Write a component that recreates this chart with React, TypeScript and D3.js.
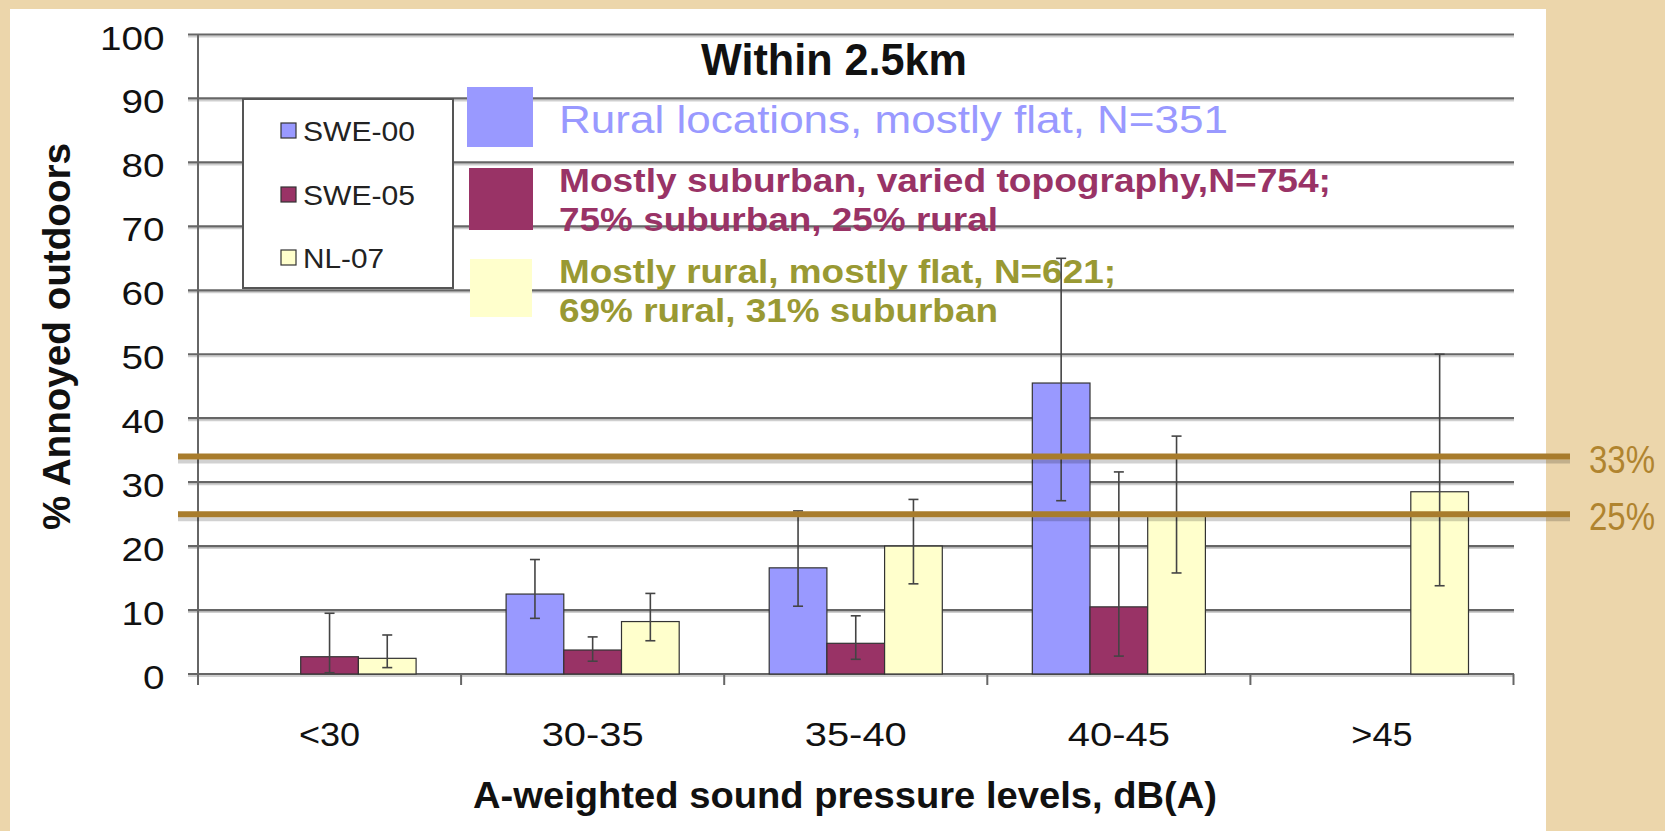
import React from "react";
import * as d3 from "d3";

const categories = ["<30", "30-35", "35-40", "40-45", ">45"];
const seriesNames = ["SWE-00", "SWE-05", "NL-07"];
const swe00 = [null, 12.5, 16.6, 45.5, null];
const swe00Low = [null, 8.7, 10.6, 27.1, null];
const swe00High = [null, 17.9, 25.5, 65.0, null];
const swe05 = [2.7, 3.75, 4.8, 10.5, null];
const swe05Low = [0.2, 2.0, 2.3, 2.8, null];
const swe05High = [9.5, 5.8, 9.1, 31.6, null];
const nl07 = [2.45, 8.2, 20.0, 25.2, 28.5];
const nl07Low = [1.0, 5.2, 14.1, 15.8, 13.8];
const nl07High = [6.1, 12.6, 27.3, 37.2, 50.0];
const yTicks = [0, 10, 20, 30, 40, 50, 60, 70, 80, 90, 100];
const refValues = [34, 25];
const refLabels = ["33%", "25%"];
const legendTexts = [
  ["Rural locations, mostly flat, N=351"],
  ["Mostly suburban, varied topography,N=754;", "75% suburban, 25% rural"],
  ["Mostly rural, mostly flat, N=621;", "69% rural, 31% suburban"],
];
const title = "Within 2.5km";
const xTitle = "A-weighted sound pressure levels, dB(A)";
const yTitle = "% Annoyed outdoors";

const seriesValues = [swe00, swe05, nl07];
const seriesLow = [swe00Low, swe05Low, nl07Low];
const seriesHigh = [swe00High, swe05High, nl07High];
const colors = ["#9999FF", "#993366", "#FFFFCC"];
const textColors = ["#9999FF", "#993366", "#999933"];

const FONT = "'Liberation Sans', Arial, sans-serif";

// text with fixed rendered width; optional vertical stretch around the baseline
function T({ x, y, len, size, weight = "normal", fill = "#000", sy = 1, children }: any) {
  return (
    <g transform={`translate(${x},${y}) scale(1,${sy})`}>
      <text
        x={0}
        y={0}
        fontSize={size}
        fontWeight={weight}
        fill={fill}
        fontFamily={FONT}
        textLength={len}
        lengthAdjust="spacingAndGlyphs"
      >
        {children}
      </text>
    </g>
  );
}

export default function App() {
  const W = 1665;
  const H = 831;
  const left = 198;
  const right = 1513.5;
  const y = d3.scaleLinear().domain([0, 100]).range([674, 34.5]);
  const x0 = d3.scaleBand().domain(categories).range([left, right]).padding(0);
  const x1 = d3
    .scaleBand()
    .domain(seriesNames)
    .range([0, x0.bandwidth()])
    .paddingInner(0)
    .paddingOuter(0.78);

  const bars: any[] = [];
  const errs: any[] = [];
  seriesNames.forEach((s, si) => {
    categories.forEach((c, ci) => {
      const v = seriesValues[si][ci];
      if (v == null) return;
      const bx = (x0(c) as number) + (x1(s) as number);
      const bw = x1.bandwidth();
      bars.push(
        <rect
          key={`b-${si}-${ci}`}
          x={bx}
          y={y(v)}
          width={bw}
          height={y(0) - y(v)}
          fill={colors[si]}
          stroke="#333"
          strokeWidth={1.2}
        />
      );
      const lo = seriesLow[si][ci] as number;
      const hi = seriesHigh[si][ci] as number;
      const cx = bx + bw / 2;
      errs.push(
        <g key={`e-${si}-${ci}`} stroke="#444" strokeWidth={1.6}>
          <line x1={cx} x2={cx} y1={y(hi)} y2={y(lo)} />
          <line x1={cx - 5} x2={cx + 5} y1={y(hi)} y2={y(hi)} />
          <line x1={cx - 5} x2={cx + 5} y1={y(lo)} y2={y(lo)} />
        </g>
      );
    });
  });

  const legendSmallY = [131, 195, 258];
  const legendSmallLen = [112, 112, 81];
  const bigSquares = [
    [467, 87, 66, 60],
    [469, 168, 64, 62],
    [470, 259, 62, 58],
  ];
  const legendLines = [
    [{ b: 133, len: 669, size: 34, sy: 1.12, w: "normal" }],
    [
      { b: 192, len: 772, size: 30, sy: 1.12, w: "bold" },
      { b: 231, len: 439, size: 30, sy: 1.12, w: "bold" },
    ],
    [
      { b: 283, len: 557, size: 30, sy: 1.12, w: "bold" },
      { b: 322, len: 439, size: 30, sy: 1.12, w: "bold" },
    ],
  ];

  return (
    <svg
      width={W}
      height={H}
      style={{ position: "absolute", left: 0, top: 0, display: "block" }}
    >
      <rect x={0} y={0} width={W} height={H} fill="#ECD6AB" />
      <rect x={10} y={9} width={1536} height={H - 9} fill="#fff" />

      {/* gridlines */}
      {yTicks.map((t) => (
        <g key={`g${t}`}>
          <line x1={188} x2={1514} y1={y(t) + 2} y2={y(t) + 2} stroke="#cfcfcf" strokeWidth={2} />
          <line x1={188} x2={1514} y1={y(t)} y2={y(t)} stroke="#666" strokeWidth={2.2} />
        </g>
      ))}
      <line x1={left} x2={left} y1={y(100)} y2={685} stroke="#666" strokeWidth={2} />
      {categories.map((c) => (
        <line
          key={`ct${c}`}
          x1={(x0(c) as number) + x0.bandwidth()}
          x2={(x0(c) as number) + x0.bandwidth()}
          y1={674}
          y2={685}
          stroke="#666"
          strokeWidth={2}
        />
      ))}

      {/* y tick labels */}
      {yTicks.map((t) => {
        const s = String(t);
        const len = s.length * 21.5;
        return (
          <T key={`yl${t}`} x={164.5 - len} y={y(t) + 15} len={len} size={30} sy={1.1} fill="#111">
            {s}
          </T>
        );
      })}

      {/* x tick labels */}
      {categories.map((c) => {
        const len = c.length * 20.4;
        const cx = (x0(c) as number) + x0.bandwidth() / 2;
        return (
          <T key={`xl${c}`} x={cx - len / 2} y={746} len={len} size={30} sy={1.1} fill="#111">
            {c}
          </T>
        );
      })}

      {/* axis titles */}
      <T x={473} y={808} len={744} size={34} sy={1.08} weight="bold" fill="#111">
        {xTitle}
      </T>
      <g transform="translate(70,336.5) rotate(-90)">
        <T x={-193.5} y={0} len={387} size={38} weight="bold" fill="#111">
          {yTitle}
        </T>
      </g>

      {/* small legend */}
      <rect x={243} y={99} width={210} height={189} fill="#fff" stroke="#555" strokeWidth={2} />
      {seriesNames.map((s, i) => (
        <g key={`sl${s}`}>
          <rect
            x={281}
            y={legendSmallY[i] - 8}
            width={15}
            height={15}
            fill={colors[i]}
            stroke="#333"
            strokeWidth={1.2}
          />
          <T x={303} y={legendSmallY[i] + 10} len={legendSmallLen[i]} size={27} fill="#222">
            {s}
          </T>
        </g>
      ))}

      {/* big legend */}
      {bigSquares.map((b, i) => (
        <rect key={`bs${i}`} x={b[0]} y={b[1]} width={b[2]} height={b[3]} fill={colors[i]} />
      ))}
      {legendTexts.map((lines, i) =>
        lines.map((ln, j) => {
          const st = legendLines[i][j];
          return (
            <T
              key={`lt${i}-${j}`}
              x={559}
              y={st.b}
              len={st.len}
              size={st.size}
              sy={st.sy}
              weight={st.w}
              fill={textColors[i]}
            >
              {ln}
            </T>
          );
        })
      )}

      {/* title */}
      <T x={701} y={75} len={266} size={42} sy={1.05} weight="bold" fill="#111">
        {title}
      </T>

      {bars}
      {errs}

      {/* reference lines */}
      {refValues.map((v, i) => (
        <g key={`r${i}`}>
          <line x1={178} x2={1570} y1={y(v) + 5} y2={y(v) + 5} stroke="rgba(0,0,0,0.18)" strokeWidth={4} />
          <line x1={178} x2={1570} y1={y(v)} y2={y(v)} stroke="#A87C2C" strokeWidth={6} />
        </g>
      ))}
      {refLabels.map((l, i) => (
        <T
          key={`rl${i}`}
          x={1589}
          y={y(refValues[i]) + 16}
          len={66}
          size={33}
          sy={1.2}
          fill="#B0842F"
        >
          {l}
        </T>
      ))}
    </svg>
  );
}
